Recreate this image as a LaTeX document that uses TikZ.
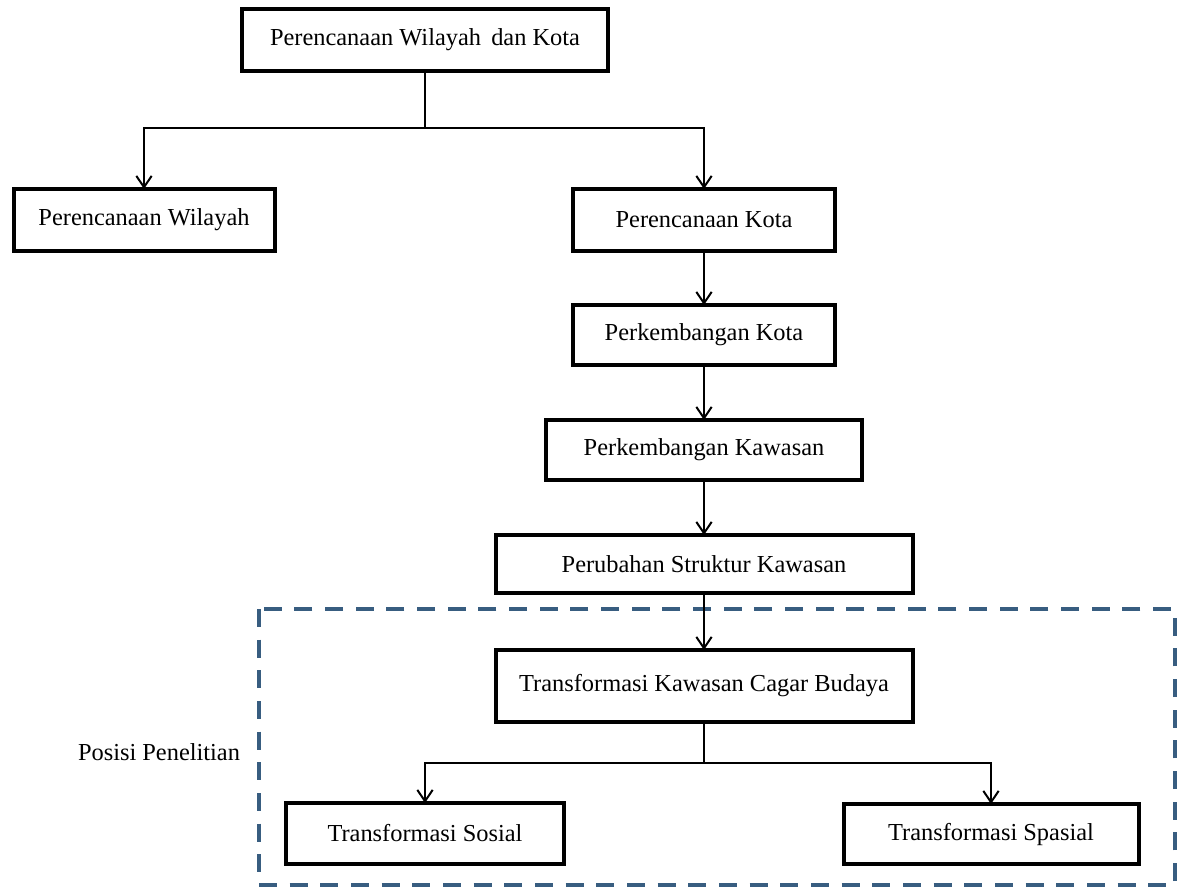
\documentclass[tikz,border=0pt]{standalone}
\usepackage{fontspec}
\setmainfont{Liberation Serif}
\usetikzlibrary{arrows.meta}
\definecolor{dashblue}{RGB}{56,93,128}
\tikzset{
  box/.style={draw=black, line width=3pt, fill=white, inner sep=0pt, outer sep=0pt, align=center, font=\fontsize{18.3}{21}\selectfont},
  conn/.style={draw=black, line width=1.5pt},
  arr/.style={conn, -{Straight Barb[length=8.5pt,width=11.5pt,line width=1.5pt]}},
  research/.style={draw=dashblue, line width=3pt, dash pattern=on 13.5pt off 9.5pt},
  lbl/.style={inner sep=0pt, font=\fontsize{18.3}{21}\selectfont}
}
\begin{document}
\begin{tikzpicture}[x=0.75pt,y=-0.75pt]
\useasboundingbox (0,0) rectangle (1177,890);
% dashed research frame
\draw[research] (259,609) rectangle (1175,885);
\node[lbl] (pos) at (159,752) {Posisi Penelitian};
% boxes
\node[box, minimum width=0.75*366, minimum height=0.75*62] (top) at (425,40) {Perencanaan Wilayah\, dan Kota};
\node[box, minimum width=0.75*261, minimum height=0.75*62] (wil) at (144,220) {Perencanaan Wilayah};
\node[box, minimum width=0.75*262, minimum height=0.75*62] (kota) at (704,220) {Perencanaan Kota};
\node[box, minimum width=0.75*262, minimum height=0.75*60] (pkota) at (704,335) {Perkembangan Kota};
\node[box, minimum width=0.75*316, minimum height=0.75*60] (pkaw) at (704,450) {Perkembangan Kawasan};
\node[box, minimum width=0.75*417, minimum height=0.75*58] (psk) at (704,564) {Perubahan Struktur Kawasan};
\node[box, minimum width=0.75*417, minimum height=0.75*72] (tkcb) at (704,686) {Transformasi Kawasan Cagar Budaya};
\node[box, minimum width=0.75*278, minimum height=0.75*61] (sos) at (425,833.5) {Transformasi Sosial};
\node[box, minimum width=0.75*295, minimum height=0.75*60] (spa) at (991,834) {Transformasi Spasial};
% connectors
\coordinate (j1) at (425,128);
\coordinate (j2) at (704,763);
\draw[conn] (top.south) -- (j1);
\draw[arr] (j1) -| (wil.north);
\draw[arr] (j1) -| (kota.north);
\draw[arr] (kota) -- (pkota);
\draw[arr] (pkota) -- (pkaw);
\draw[arr] (pkaw) -- (psk);
\draw[arr] (psk) -- (tkcb);
\draw[conn] (tkcb.south) -- (j2);
\draw[arr] (j2) -| (sos.north);
\draw[arr] (j2) -| (spa.north);
\end{tikzpicture}
\end{document}
